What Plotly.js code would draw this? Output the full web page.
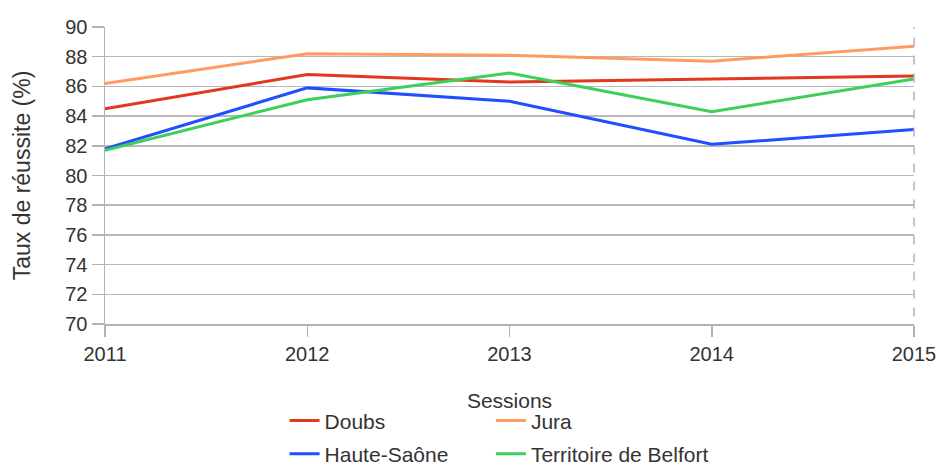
<!DOCTYPE html>
<html>
<head>
<meta charset="utf-8">
<script src="https://cdn.plot.ly/plotly-3.0.1.min.js"></script>
<style>html,body{margin:0;padding:0;background:#fff;}#chart{width:940px;height:465px;}</style>
</head>
<body>
<div id="chart"></div>
<script>
const years = [2011, 2012, 2013, 2014, 2015];
const seriesNames = ["Doubs", "Jura", "Haute-Saône", "Territoire de Belfort"];
const doubs = [84.5, 86.8, 86.3, 86.5, 86.7];
const jura = [86.2, 88.2, 88.1, 87.7, 88.7];
const hauteSaone = [81.8, 85.9, 85.0, 82.1, 83.1];
const belfort = [81.7, 85.1, 86.9, 84.3, 86.5];
const yTickVals = [70, 72, 74, 76, 78, 80, 82, 84, 86, 88, 90];
const xTitle = "Sessions";
const yTitle = "Taux de réussite (%)";

const colors = ["#e2381c", "#ff9a62", "#1f4fff", "#3ccf5a"];
const values = [doubs, jura, hauteSaone, belfort];
const legendIds = ["legend", "legend2", "legend", "legend2"];
const font = "Liberation Sans, Arial, sans-serif";

const traces = values.map((v, i) => ({
  x: years, y: v, name: seriesNames[i], type: "scatter", mode: "lines",
  line: {color: colors[i], width: 3}, legend: legendIds[i], legendgroup: "g" + i
}));

const legendBase = {
  orientation: "v", xanchor: "left", yanchor: "top",
  font: {size: 21, color: "#333"}, traceorder: "grouped", tracegroupgap: 3,
  bgcolor: "rgba(0,0,0,0)"
};

const layout = {
  width: 940, height: 465,
  margin: {l: 105, r: 26, t: 27, b: 141, autoexpand: false},
  paper_bgcolor: "#fff", plot_bgcolor: "#fff",
  font: {family: font, color: "#333", size: 20},
  showlegend: true,
  legend: Object.assign({}, legendBase, {x: 0.222, y: -0.257}),
  legend2: Object.assign({}, legendBase, {x: 0.477, y: -0.257}),
  xaxis: {
    range: [2011, 2015], tickvals: years, ticktext: years.map(String),
    showgrid: false, zeroline: false, showline: true, linecolor: "#b3b3b3", linewidth: 1.5,
    ticks: "outside", ticklen: 11, tickcolor: "#b3b3b3", tickwidth: 1.5,
    tickfont: {size: 20, color: "#333"},
    title: {text: xTitle, font: {size: 21, color: "#333"}, standoff: 30}
  },
  yaxis: {
    range: [70, 90], tickvals: yTickVals,
    showgrid: true, gridcolor: "#b8b8b8", gridwidth: 1.5, zeroline: false,
    showline: true, linecolor: "#b3b3b3", linewidth: 1.5,
    ticks: "outside", ticklen: 12, tickcolor: "#b3b3b3", tickwidth: 1.5,
    tickfont: {size: 20, color: "#333"},
    title: {text: yTitle, font: {size: 23, color: "#333"}, standoff: 28}
  },
  shapes: [{
    type: "line", xref: "paper", yref: "paper", x0: 1, x1: 1, y0: -0.035, y1: 1,
    line: {color: "#b3b3b3", width: 1.5, dash: "dash"}
  }]
};

Plotly.newPlot("chart", traces, layout, {displayModeBar: false, staticPlot: true});
</script>
</body>
</html>
